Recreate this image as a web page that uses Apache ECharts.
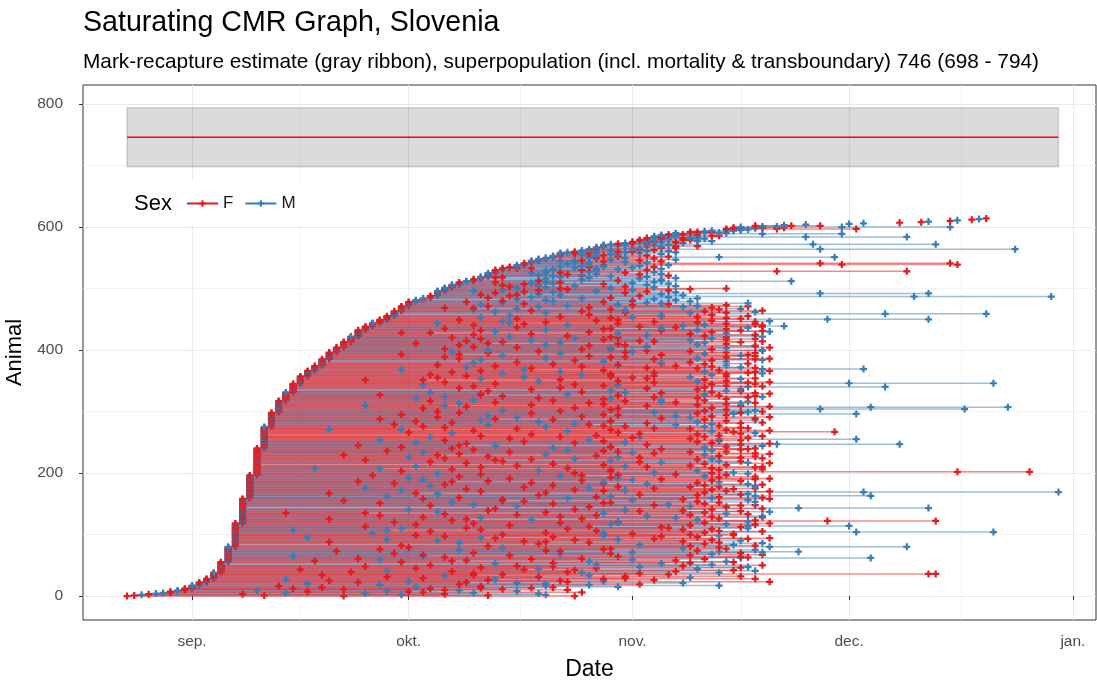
<!DOCTYPE html>
<html><head><meta charset="utf-8">
<script src="https://cdn.jsdelivr.net/npm/echarts@6/dist/echarts.min.js"></script>
<style>html,body{margin:0;padding:0;background:#fff}#chart{width:1097px;height:682px}</style>
</head><body><div id="chart"></div>
<script>
// ---- DATA (days counted from 1 August; day 31 = 1 Sep) ----
const monthStarts = [31, 61, 92, 122, 153];
const monthLabels = ['sep.', 'okt.', 'nov.', 'dec.', 'jan.'];
const monthMids = [46, 76.5, 107, 137.5];
const yTicks = [0, 200, 400, 600, 800];
const yMinor = [100, 300, 500, 700];

// population estimate (gray ribbon)
const estLow = 698, estMid = 746, estHigh = 794;

// first-capture days and number of newly marked animals on each
const captureDays = [22,23,24,25,26,27,28,29,30,31,32,33,34,35,36,37,38,39,40,41,42,43,44,45,46,47,48,49,50,51,52,53,54,55,56,57,58,59,60,61,62,63,64,65,66,67,68,69,70,71,72,73,74,75,76,77,78,79,80,81,82,83,84,85,86,87,88,89,90,91,92,93,94,95,96,97,98,100,102,103,105,106,107,109,113,116,122,124,129,132,133,136,137,139,140,141];
const newAnimals = [1,1,1,1,1,1,2,2,3,5,5,6,10,17,25,38,40,38,44,35,23,19,14,14,12,9,8,11,11,8,9,9,10,6,6,5,6,8,8,7,3,3,4,8,5,5,4,2,3,4,6,5,3,2,3,3,4,3,2,3,5,1,1,2,2,3,4,1,1,1,2,3,3,3,2,1,2,2,1,1,3,2,1,2,1,1,1,1,1,1,1,1,1,1,1,1];

// last capture day of each animal (in order of first capture)
const lastDay = [
84,72,80,66,79,70,85,61,76,68,83,74,64,78,81,90,71,104,86,93,
80,99,69,111,88,82,95,73,109,91,100,79,107,86,70,97,134,93,104,83,
98,109,106,77,101,87,107,108,81,99,110,103,35,96,100,106,105,67,98,92,
102,85,125,108,107,63,100,110,103,89,107,110,115,82,101,109,88,105,99,104,
130,100,109,106,37,102,110,104,80,99,107,103,90,108,111,71,101,96,104,106,
100,106,88,102,142,110,104,58,99,103,108,97,107,86,122,100,109,105,111,102,
90,108,134,109,101,69,104,98,110,103,110,87,100,108,105,55,102,111,107,99,
91,103,110,133,38,105,100,107,109,97,102,88,104,109,101,74,108,99,111,103,
110,104,89,125,101,107,108,62,102,151,111,105,91,103,106,109,86,100,104,109,
102,110,108,88,101,104,67,107,103,92,109,111,90,104,109,102,85,105,98,108,
103,106,147,89,101,104,110,57,103,109,110,91,100,105,40,102,111,108,93,107,
104,73,101,103,110,107,90,109,104,65,102,111,109,92,100,105,88,103,107,108,
109,102,89,105,110,68,107,129,111,103,91,101,104,107,86,123,100,108,93,102,
110,104,41,101,107,109,90,120,103,111,105,60,100,108,107,102,91,104,98,86,
103,107,110,101,89,105,109,102,73,109,100,111,103,98,105,88,123,101,107,108,
110,102,109,105,138,90,103,144,111,107,66,101,105,107,109,98,108,91,102,96,
105,89,101,108,110,109,104,71,102,111,109,91,103,107,105,45,101,107,94,102,
127,110,105,90,103,109,142,108,111,101,105,63,102,107,109,92,100,105,95,103,
89,105,110,108,109,102,111,104,77,124,101,109,107,103,98,105,90,102,108,96,
100,105,49,103,110,109,111,101,105,91,109,107,108,68,102,109,105,92,100,110,
110,103,89,105,111,94,109,109,91,101,105,72,102,107,110,93,100,105,109,103,
90,105,110,102,109,109,100,105,64,103,111,110,107,101,105,89,108,98,110,113,
110,102,109,105,75,101,109,111,103,90,133,107,105,92,101,108,96,103,59,141,
100,105,109,102,110,91,104,107,70,103,99,108,101,105,90,97,108,94,88,100,
92,98,63,95,101,89,97,150,93,99,76,96,133,91,98,94,87,97,92,100,
105,89,95,91,98,79,94,88,97,92,82,95,114,90,96,70,93,98,74,94,
89,97,85,93,96,80,91,95,130,87,94,90,96,78,92,95,88,93,97,137,
86,136,94,91,96,84,93,98,79,95,91,120,97,87,94,90,96,86,93,98,
92,97,89,95,145,93,98,87,96,101,91,97,134,94,99,96,98,103,95,100,
97,102,99,101,130,98,104,101,101,121,105,104,103,102,106,107,108,123,109,113,
136,112,118,113,116,122,124,129,132,133,136,137,139,140,141];

// one intermediate recapture day per animal (0 = none)
const midDay = [
52,41,60,38,55,44,63,47,58,40,66,52,45,71,49,62,43,80,57,68,
47,76,54,83,61,50,72,44,88,63,79,58,91,66,49,74,133,70,85,53,
67,58,84,46,79,62,71,93,55,76,64,87,0,73,81,60,86,48,69,57,
78,54,107,66,90,45,75,63,82,59,70,92,104,51,80,68,57,89,74,61,
111,72,60,93,0,79,68,86,50,77,65,84,58,95,73,47,81,66,88,62,
74,92,56,80,123,64,87,45,71,83,60,69,96,55,108,75,62,89,70,82,
59,90,119,67,78,50,85,71,63,82,94,57,76,66,88,44,80,65,93,72,
61,84,73,115,0,86,76,64,95,70,81,57,89,67,77,52,92,74,63,83,
68,87,58,109,79,93,65,50,80,124,71,88,60,84,69,95,55,77,90,64,
81,66,94,59,78,88,54,72,85,63,96,75,61,89,68,82,56,90,71,65,
84,95,137,60,79,89,67,48,83,71,94,62,76,88,0,81,69,96,64,74,
89,55,78,84,66,93,61,72,87,52,80,68,95,63,75,90,58,83,70,96,
67,81,60,89,73,54,94,112,69,84,62,77,88,66,57,104,75,92,64,82,
71,87,0,78,93,67,61,106,83,70,89,50,76,95,66,80,63,88,72,59,
84,94,67,79,62,89,71,81,57,96,76,65,85,72,90,60,106,78,68,95,
65,82,74,89,118,63,84,125,69,94,55,78,88,68,86,73,96,64,81,70,
88,62,79,95,66,74,90,57,83,71,96,64,85,72,89,0,78,94,68,82,
108,70,88,63,84,73,122,95,66,79,90,55,82,71,94,65,77,89,69,85,
64,89,74,95,67,82,71,88,60,110,78,94,69,85,73,90,65,81,96,70,
76,88,0,84,71,95,68,80,89,66,86,74,96,60,82,72,91,67,79,94,
72,85,66,89,76,70,94,86,68,80,90,62,82,74,95,69,78,88,71,84,
67,89,75,83,94,70,78,90,60,86,73,96,71,80,88,66,96,76,93,99,
70,83,77,90,65,80,95,74,87,68,119,76,89,71,82,96,75,86,0,127,
80,91,73,85,78,70,89,76,66,86,79,72,83,92,71,77,96,74,69,81,
74,80,0,76,85,72,78,131,75,82,71,79,118,73,81,77,70,79,74,83,
82,76,80,75,84,74,79,77,81,78,73,80,96,79,85,0,80,86,73,82,
81,85,79,83,87,78,82,86,112,80,85,81,87,76,84,86,82,85,88,121,
83,118,86,84,88,82,85,89,0,87,86,104,90,86,88,85,89,84,87,91,
90,94,87,93,118,92,96,0,94,98,90,95,117,92,98,94,95,101,94,99,
96,101,96,100,116,97,103,98,99,110,101,102,101,0,105,106,107,112,107,110,
121,110,114,0,0,0,0,0,0,0,0,0,0,0,0];

// sex of each animal
const sexRows = [
"FFMFMMFFMMFFFFFMFMMF","MMFFMFFMFFMFFMFFFFMF","FMFFMFFMFFFMFMFFMFFM","FFMFFMFFMFFMMFFMFFMF",
"MFFMFFMFFFMFMFFMFFMF","FFMFMFFMFFMFFFMFFMFF","FMFFMFFMFFMFFFMFFMFF","MFFMFFMFFMFFFMFFMFFM",
"FFMMFFMFFMFFMFFFMFFM","FFMFFMFFFMFFMFFMFFFM","FMFFMFFMFFFMFFMFFMFF","MFFMFFMFFFMFFMFFFMFF",
"FMFFMFFMFFMFFFMMFFMF","FFMFFMFFMFFMFFFMFFMF","MFFMFFMFFFMFFMFFMFFM","FFMFMFFMFFMFFMFFMFFM",
"FMFFMFFFMFFMFFMFFMFF","MFFMFFMFFMFFFMFFMFFM","FFMFFMFFMMFFMFFMFFFM","FMFFMFFMFFFMFFMFFMFF",
"MFFMFFMFFMFFMFFFMFFM","FFMFMFFMFFMFFMFFMFFM","FMFFMFFMFFMFFMFFMFFM","MFMFFMFMFFMFMFMFMMFM",
"FMFMMFMMFMFMMFMFMFMF","FMMFMFMFMMFMMFMFMMFM","MFMFMMFMFMFMMFMFMMMF","MFMMFMFMMFMMFMFMMFMM",
"FMMFMMFMMFMMMFMMFMMF","MMFMMMFMFMMMFMMMMFMF","MMFMMMMFFMFMFMF"];

const COL_F = '#E41A1C', COL_M = '#377EB8';
const FONT = '"Liberation Sans", Arial, Helvetica, sans-serif';

// ---- build per-animal table ----
const firstDay = [];
captureDays.forEach((d, k) => { for (let j = 0; j < newAnimals[k]; j++) firstDay.push(d); });
const sex = sexRows.join('').split('');
if (firstDay.length !== lastDay.length || midDay.length !== lastDay.length || sex.length !== lastDay.length) {
  throw new Error('length mismatch ' + firstDay.length + ' ' + lastDay.length + ' ' + midDay.length + ' ' + sex.length);
}
const bad = [];
const lineData = [], pointData = [];
for (let i = 0; i < firstDay.length; i++) {
  const s = sex[i] === 'M' ? 1 : 0;
  if (lastDay[i] < firstDay[i]) bad.push('L' + i);
  if (midDay[i] && (midDay[i] <= firstDay[i] || midDay[i] >= lastDay[i])) bad.push('M' + i);
  lineData.push([firstDay[i], lastDay[i], i, s]);
  pointData.push([firstDay[i], i, s]);
  if (midDay[i]) pointData.push([midDay[i], i, s]);
  if (lastDay[i] !== firstDay[i]) pointData.push([lastDay[i], i, s]);
}
if (bad.length) console.error('inconsistent rows: ' + bad.join(','));
const ribbonStart = Math.min.apply(null, firstDay);
const ribbonEnd = Math.max.apply(null, lastDay);

const PLUS = 'path://M3.4,0H6.6V3.4H10V6.6H6.6V10H3.4V6.6H0V3.4H3.4Z';

const chart = echarts.init(document.getElementById('chart'), null, { renderer: 'canvas' });
const xMin = 15.9, xMax = 156.2, yMin = -39, yMax = 831;

chart.setOption({
  animation: false,
  backgroundColor: '#fff',
  textStyle: { fontFamily: FONT },
  title: [
    { text: 'Saturating CMR Graph, Slovenia', left: 83, top: 9, padding: 0,
      textStyle: { fontFamily: FONT, fontSize: 28.6, fontWeight: 'normal', color: '#000' } },
    { text: 'Mark-recapture estimate (gray ribbon), superpopulation (incl. mortality & transboundary) 746 (698 - 794)',
      left: 83, top: 52, padding: 0,
      textStyle: { fontFamily: FONT, fontSize: 20.8, fontWeight: 'normal', color: '#000' } },
    { text: 'Sex', left: 134, top: 193, padding: 0, z: 10,
      textStyle: { fontFamily: FONT, fontSize: 22, fontWeight: 'normal', color: '#000' } }
  ],
  legend: {
    data: ['F', 'M'], left: 121, top: 181, orient: 'horizontal',
    backgroundColor: '#fff', padding: [14, 12, 13, 65],
    itemWidth: 31, itemHeight: 8, itemGap: 11,
    textStyle: { fontFamily: FONT, fontSize: 17, color: '#1a1a1a' },
    selectedMode: false
  },
  grid: { left: 83, right: 1, top: 85, bottom: 62, show: true, borderColor: '#333333', borderWidth: 1,
    backgroundColor: '#fff', containLabel: false, outerBoundsMode: 'none' },
  xAxis: [
    { type: 'value', min: xMin, max: xMax, position: 'bottom',
      name: 'Date', nameLocation: 'middle', nameGap: 38,
      nameTextStyle: { fontFamily: FONT, fontSize: 23, color: '#000' },
      axisLine: { show: false },
      axisTick: { show: true, length: 4, customValues: monthStarts, lineStyle: { color: '#333', width: 1 } },
      axisLabel: { show: true, customValues: monthStarts, margin: 14, color: '#4D4D4D', fontSize: 15.5, fontFamily: FONT,
        formatter: v => monthLabels[monthStarts.indexOf(v)] || '' },
      splitLine: { show: true, lineStyle: { color: '#EBEBEB', width: 1.1 } } },
    { type: 'value', min: xMin, max: xMax, position: 'bottom',
      axisLine: { show: false }, axisLabel: { show: false },
      axisTick: { show: false, customValues: monthMids },
      splitLine: { show: true, lineStyle: { color: '#EFEFEF', width: 0.7 } } }
  ],
  yAxis: [
    { type: 'value', min: yMin, max: yMax, position: 'left',
      name: 'Animal', nameLocation: 'middle', nameGap: 46, nameRotate: 90,
      nameTextStyle: { fontFamily: FONT, fontSize: 22, color: '#000' },
      axisLine: { show: false },
      axisTick: { show: true, length: 4, customValues: yTicks, lineStyle: { color: '#333', width: 1 } },
      axisLabel: { show: true, customValues: yTicks, margin: 20, color: '#4D4D4D', fontSize: 15.5, fontFamily: FONT },
      splitLine: { show: true, lineStyle: { color: '#EBEBEB', width: 1.1 } } },
    { type: 'value', min: yMin, max: yMax, position: 'left',
      axisLine: { show: false }, axisLabel: { show: false },
      axisTick: { show: false, customValues: yMinor },
      splitLine: { show: true, lineStyle: { color: '#EFEFEF', width: 0.7 } } }
  ],
  series: [
    { type: 'custom', name: 'ribbon', silent: true, z: 1,
      data: [[ribbonStart, ribbonEnd, estLow, estMid, estHigh]],
      encode: { x: [0, 1], y: [2, 4] },
      renderItem: (params, api) => {
        const a = api.coord([api.value(0), api.value(4)]);
        const b = api.coord([api.value(1), api.value(2)]);
        const m1 = api.coord([api.value(0), api.value(3)]);
        const m2 = api.coord([api.value(1), api.value(3)]);
        return { type: 'group', children: [
          { type: 'rect', shape: { x: a[0], y: a[1], width: b[0] - a[0], height: b[1] - a[1] },
            style: { fill: 'rgba(0,0,0,0.14)', stroke: 'rgba(0,0,0,0.14)', lineWidth: 1.5 } },
          { type: 'line', shape: { x1: m1[0], y1: m1[1], x2: m2[0], y2: m2[1] },
            style: { stroke: '#FF0000', lineWidth: 1.5 } }
        ] };
      } },
    { type: 'custom', name: 'tracks', silent: true, z: 2, clip: true,
      data: lineData, encode: { x: [0, 1], y: 2 },
      renderItem: (params, api) => {
        const p1 = api.coord([api.value(0), api.value(2)]);
        const p2 = api.coord([api.value(1), api.value(2)]);
        return { type: 'line', shape: { x1: p1[0], y1: p1[1], x2: p2[0], y2: p2[1] },
          style: { stroke: api.value(3) ? COL_M : COL_F, lineWidth: 1.5, opacity: 0.5 } };
      } },
    { type: 'scatter', name: 'captures', silent: true, z: 3,
      data: pointData, symbol: PLUS, symbolSize: 7,
      itemStyle: { color: p => (p.value[2] ? COL_M : COL_F), opacity: 1 } },
    { type: 'line', name: 'F', data: [], symbol: PLUS, symbolSize: 6,
      color: COL_F, itemStyle: { color: COL_F }, lineStyle: { color: COL_F, width: 1.2 } },
    { type: 'line', name: 'M', data: [], symbol: PLUS, symbolSize: 6,
      color: COL_M, itemStyle: { color: COL_M }, lineStyle: { color: COL_M, width: 1.2 } }
  ]
});
</script></body></html>
